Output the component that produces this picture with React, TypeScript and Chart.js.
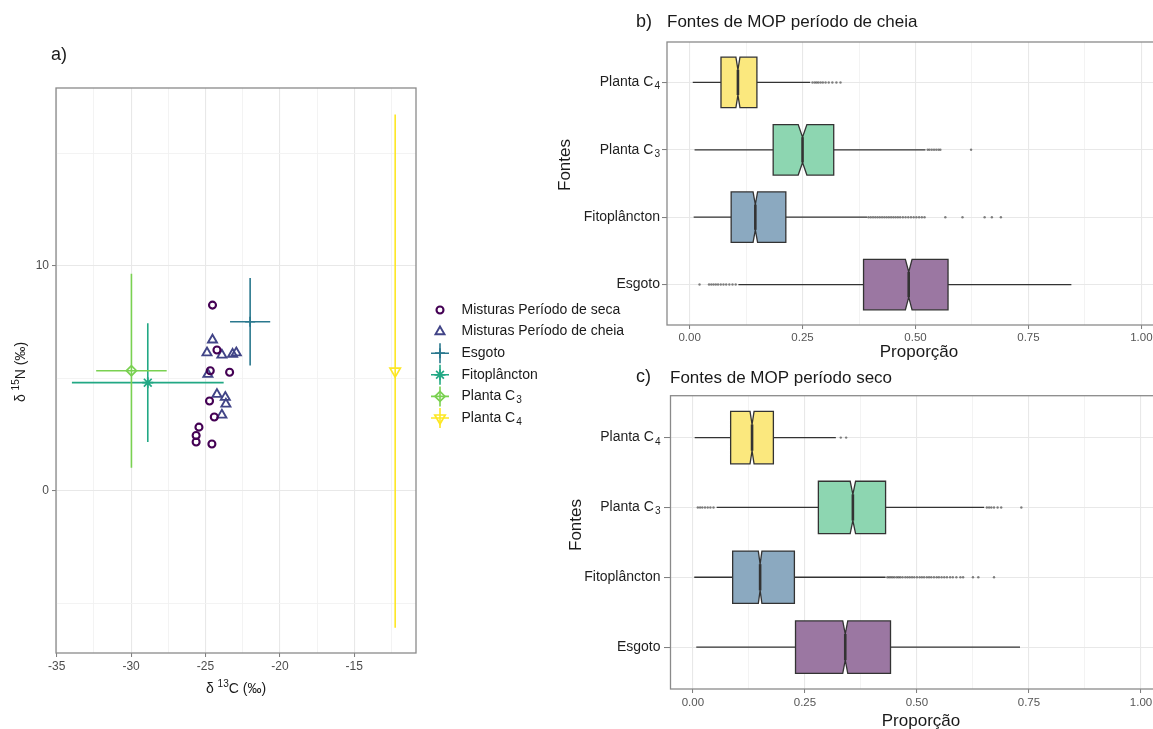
import React, { useEffect, useRef } from 'react';
import Chart from 'chart.js/auto';
import { drawPoint } from 'chart.js/helpers';

const FONT = '"Liberation Sans", Arial, Helvetica, sans-serif';
Chart.defaults.font.family = FONT;

// ---------- Panel a data ----------
const misturaSecaX = [-24.53, -24.23, -24.68, -23.38, -24.73, -24.41, -25.44, -25.63, -25.63, -24.57];
const misturaSecaY = [8.26, 6.26, 5.34, 5.27, 3.99, 3.28, 2.83, 2.46, 2.17, 2.08];
const misturaCheiaX = [-24.53, -24.9, -23.9, -23.18, -22.93, -24.84, -24.23, -23.67, -23.63, -23.9];
const misturaCheiaY = [6.71, 6.14, 6.04, 6.08, 6.14, 5.18, 4.29, 4.16, 3.86, 3.37];
const sourceNames = ['Esgoto', 'Fitoplâncton', 'Planta C3', 'Planta C4'];
const sourceMeanX = [-22.0, -28.88, -29.98, -12.25];
const sourceSdX = [1.35, 5.1, 2.37, 0.05];
const sourceMeanY = [7.52, 4.81, 5.34, 5.32];
const sourceSdY = [1.95, 2.64, 4.32, 11.42];
const aXTicks = [-35, -32.5, -30, -27.5, -25, -22.5, -20, -17.5, -15, -12.5];
const aXLabels = ['-35', '', '-30', '', '-25', '', '-20', '', '-15', ''];
const aYTicks = [-5, 0, 5, 10, 15];
const aYLabels = ['', '0', '', '10', ''];

// ---------- Panels b/c data ----------
const fontes = ['Planta C4', 'Planta C3', 'Fitoplâncton', 'Esgoto'];
const propTicks = [0, 0.125, 0.25, 0.375, 0.5, 0.625, 0.75, 0.875, 1];
const propLabels = ['0.00', '', '0.25', '', '0.50', '', '0.75', '', '1.00'];

const cheiaLow = [0.007, 0.011, 0.009, 0.108];
const cheiaQ1 = [0.0695, 0.185, 0.092, 0.385];
const cheiaMed = [0.107, 0.25, 0.1455, 0.485];
const cheiaQ3 = [0.149, 0.319, 0.213, 0.572];
const cheiaHigh = [0.267, 0.522, 0.393, 0.845];
const cheiaNotch = [0.0045, 0.0096, 0.005, 0.0074];
const cheiaOutC4 = [0.272, 0.277, 0.281, 0.285, 0.29, 0.295, 0.301, 0.308, 0.316, 0.325, 0.334];
const cheiaOutC3 = [0.527, 0.531, 0.536, 0.541, 0.546, 0.551, 0.555, 0.623];
const cheiaOutFito = [0.396, 0.401, 0.406, 0.411, 0.416, 0.421, 0.426, 0.431, 0.436, 0.441, 0.446, 0.451, 0.456, 0.461, 0.466, 0.472, 0.478, 0.484, 0.49, 0.496, 0.502, 0.508, 0.514, 0.52, 0.566, 0.604, 0.653, 0.669, 0.689];
const cheiaOutEsgoto = [0.022, 0.043, 0.048, 0.053, 0.058, 0.063, 0.069, 0.075, 0.081, 0.088, 0.095, 0.102];

const secoLow = [0.004, 0.053, 0.003, 0.0075];
const secoQ1 = [0.0842, 0.28, 0.0887, 0.229];
const secoMed = [0.132, 0.357, 0.15, 0.34];
const secoQ3 = [0.1796, 0.43, 0.2265, 0.441];
const secoHigh = [0.319, 0.65, 0.43, 0.73];
const secoNotch = [0.0045, 0.006, 0.004, 0.0056];
const secoOutC4 = [0.33, 0.342];
const secoOutC3 = [0.011, 0.016, 0.021, 0.027, 0.033, 0.039, 0.046, 0.656, 0.661, 0.666, 0.672, 0.68, 0.688, 0.733];
const secoOutFito = [0.434, 0.438, 0.442, 0.446, 0.45, 0.455, 0.459, 0.463, 0.468, 0.474, 0.479, 0.484, 0.489, 0.494, 0.5, 0.506, 0.511, 0.516, 0.522, 0.527, 0.532, 0.538, 0.544, 0.549, 0.555, 0.561, 0.567, 0.574, 0.58, 0.588, 0.597, 0.603, 0.625, 0.637, 0.672];
const secoOutEsgoto: number[] = [];

const boxFill = ['#FBE87E', '#8DD6B1', '#8BA9C0', '#9B77A2'];
const mixColors = ['#440154', '#414487'];
const sourceColors = ['#2A788E', '#22A884', '#7AD151', '#FDE725'];

const GRID_MAJOR = '#E8E8E8';
const GRID_MINOR = '#F2F2F2';
const BORDER = '#8A8A8A';
const TICK_MARK = '#7A7A7A';

function drawSubText(ctx: CanvasRenderingContext2D, text: string, x: number, y: number, size: number, align: string, color: string) {
  const m = text.match(/^(.*C)(\d)$/);
  const base = m ? m[1] : text;
  const sub = m ? m[2] : '';
  ctx.save();
  ctx.fillStyle = color;
  ctx.textBaseline = 'middle';
  ctx.textAlign = 'left';
  ctx.font = `${size}px ${FONT}`;
  const wb = ctx.measureText(base).width;
  const subSize = size * 0.72;
  ctx.font = `${subSize}px ${FONT}`;
  const ws = sub ? ctx.measureText(sub).width + 1 : 0;
  const total = wb + ws;
  const x0 = align === 'left' ? x : align === 'right' ? x - total : x - total / 2;
  ctx.font = `${size}px ${FONT}`;
  ctx.fillText(base, x0, y);
  if (sub) {
    ctx.font = `${subSize}px ${FONT}`;
    ctx.fillText(sub, x0 + wb + 1, y + size * 0.3);
  }
  ctx.restore();
}

function drawIsoTitle(ctx: CanvasRenderingContext2D, pre: string, sup: string, post: string, cx: number, cy: number, size: number, rotate: boolean) {
  ctx.save();
  ctx.translate(cx, cy);
  if (rotate) ctx.rotate(-Math.PI / 2);
  ctx.fillStyle = '#1a1a1a';
  ctx.textBaseline = 'middle';
  ctx.textAlign = 'left';
  const f = `${size}px ${FONT}`;
  const fs = `${size * 0.72}px ${FONT}`;
  ctx.font = f;
  const w1 = ctx.measureText(pre).width;
  const w3 = ctx.measureText(post).width;
  ctx.font = fs;
  const w2 = ctx.measureText(sup).width;
  let x = -(w1 + w2 + w3) / 2;
  ctx.font = f;
  ctx.fillText(pre, x, 0);
  x += w1;
  ctx.font = fs;
  ctx.fillText(sup, x, -size * 0.35);
  x += w2;
  ctx.font = f;
  ctx.fillText(post, x, 0);
  ctx.restore();
}

function drawText(ctx: CanvasRenderingContext2D, text: string, x: number, y: number, size: number, align: CanvasTextAlign, rotate = false) {
  ctx.save();
  ctx.translate(x, y);
  if (rotate) ctx.rotate(-Math.PI / 2);
  ctx.fillStyle = '#1a1a1a';
  ctx.font = `${size}px ${FONT}`;
  ctx.textAlign = align;
  ctx.textBaseline = 'middle';
  ctx.fillText(text, 0, 0);
  ctx.restore();
}

const sourceStyles = ['cross', 'star', 'rectRot', 'triangle'];
const sourceRotation = [0, 0, 0, 180];
const sourceRadius = [5, 5.5, 5, 6];

function makeScatterConfig(): any {
  const datasets: any[] = [
    {
      label: 'Misturas Período de seca',
      data: misturaSecaX.map((x, i) => ({ x, y: misturaSecaY[i] })),
      pointStyle: 'circle', pointRadius: 3.5, pointBorderWidth: 2.1,
      pointBorderColor: mixColors[0], pointBackgroundColor: 'rgba(0,0,0,0)', pointRotation: 0,
    },
    {
      label: 'Misturas Período de cheia',
      data: misturaCheiaX.map((x, i) => ({ x, y: misturaCheiaY[i] })),
      pointStyle: 'triangle', pointRadius: 5.2, pointBorderWidth: 1.9,
      pointBorderColor: mixColors[1], pointBackgroundColor: 'rgba(0,0,0,0)', pointRotation: 0,
    },
    ...sourceNames.map((name, i) => ({
      label: name,
      data: [{ x: sourceMeanX[i], y: sourceMeanY[i] }],
      pointStyle: sourceStyles[i], pointRadius: sourceRadius[i], pointBorderWidth: 1.7,
      pointRotation: sourceRotation[i],
      pointBorderColor: sourceColors[i], pointBackgroundColor: 'rgba(0,0,0,0)',
    })),
  ];

  const plugin = {
    id: 'panelA',
    beforeDatasetsDraw(chart: any) {
      const { ctx, scales: { x, y } } = chart;
      ctx.save();
      ctx.lineWidth = 1.6;
      sourceNames.forEach((_, i) => {
        ctx.strokeStyle = sourceColors[i];
        ctx.beginPath();
        ctx.moveTo(x.getPixelForValue(sourceMeanX[i] - sourceSdX[i]), y.getPixelForValue(sourceMeanY[i]));
        ctx.lineTo(x.getPixelForValue(sourceMeanX[i] + sourceSdX[i]), y.getPixelForValue(sourceMeanY[i]));
        ctx.moveTo(x.getPixelForValue(sourceMeanX[i]), y.getPixelForValue(sourceMeanY[i] + sourceSdY[i]));
        ctx.lineTo(x.getPixelForValue(sourceMeanX[i]), y.getPixelForValue(sourceMeanY[i] - sourceSdY[i]));
        ctx.stroke();
      });
      ctx.restore();
    },
    afterDraw(chart: any) {
      const { ctx, chartArea: ca } = chart;
      ctx.save();
      ctx.strokeStyle = BORDER;
      ctx.lineWidth = 1.3;
      ctx.strokeRect(ca.left, ca.top, ca.right - ca.left, ca.bottom - ca.top);
      ctx.restore();

      // legend
      chart.data.datasets.forEach((ds: any, i: number) => {
        const ly = 310 + i * 21.6;
        const lx = 440;
        ctx.save();
        ctx.strokeStyle = ds.pointBorderColor;
        ctx.fillStyle = 'rgba(0,0,0,0)';
        ctx.lineWidth = ds.pointBorderWidth;
        if (i >= 2) {
          ctx.lineWidth = 1.6;
          ctx.beginPath();
          ctx.moveTo(lx - 9, ly); ctx.lineTo(lx + 9, ly);
          ctx.moveTo(lx, ly - 10); ctx.lineTo(lx, ly + 10);
          ctx.stroke();
          ctx.lineWidth = ds.pointBorderWidth;
        }
        drawPoint(ctx, { pointStyle: ds.pointStyle, rotation: ds.pointRotation, radius: ds.pointRadius, borderWidth: ds.pointBorderWidth }, lx, ly);
        ctx.restore();
        drawSubText(ctx, ds.label, 461.5, ly, 14, 'left', '#1a1a1a');
      });

      drawText(ctx, 'a)', 51, 55, 18, 'left');
      drawIsoTitle(ctx, 'δ ', '13', 'C (‰)', 236, 689, 14, false);
      drawIsoTitle(ctx, 'δ ', '15', 'N (‰)', 21, 372, 14, true);
    },
  };

  return {
    type: 'scatter',
    data: { datasets },
    options: {
      animation: false,
      responsive: false,
      devicePixelRatio: 1,
      events: [],
      layout: { padding: { left: 16, top: 88, right: 224, bottom: 16 } },
      plugins: { legend: { display: false }, tooltip: { enabled: false } },
      scales: {
        x: {
          type: 'linear', min: -35.05, max: -10.85,
          afterBuildTicks: (s: any) => { s.ticks = aXTicks.map((v) => ({ value: v })); },
          afterFit: (s: any) => { s.height = 60; },
          ticks: {
            autoSkip: false, maxRotation: 0, padding: 2, color: '#4d4d4d',
            font: { size: 12, family: FONT },
            callback: (_v: any, i: number) => aXLabels[i],
          },
          grid: {
            color: (c: any) => (aXLabels[c.index] ? GRID_MAJOR : GRID_MINOR),
            lineWidth: (c: any) => (aXLabels[c.index] ? 1.1 : 0.9),
            tickLength: 4,
            tickColor: (c: any) => (aXLabels[c.index] ? TICK_MARK : 'rgba(0,0,0,0)'),
            tickWidth: 1,
          },
          border: { display: false },
        },
        y: {
          type: 'linear', min: -7.22, max: 17.92,
          afterBuildTicks: (s: any) => { s.ticks = aYTicks.map((v) => ({ value: v })); },
          afterFit: (s: any) => { s.width = 40; },
          ticks: {
            autoSkip: false, padding: 3, color: '#4d4d4d',
            font: { size: 12, family: FONT },
            callback: (_v: any, i: number) => aYLabels[i],
          },
          grid: {
            color: (c: any) => (aYLabels[c.index] ? GRID_MAJOR : GRID_MINOR),
            lineWidth: (c: any) => (aYLabels[c.index] ? 1.1 : 0.9),
            tickLength: 4,
            tickColor: (c: any) => (aYLabels[c.index] ? TICK_MARK : 'rgba(0,0,0,0)'),
            tickWidth: 1,
          },
          border: { display: false },
        },
      },
    },
    plugins: [plugin],
  };
}

interface BoxPanel {
  low: number[]; q1: number[]; med: number[]; q3: number[]; high: number[]; notch: number[];
  outliers: number[][];
  letter: string; title: string;
  letterPos: [number, number]; titlePos: [number, number];
  yTitlePos: [number, number]; xTitlePos: [number, number];
  padding: { left: number; right: number; top: number; bottom: number };
  yTickLength: number; labelOffset: number; xTickPadding: number;
}

const panelB: BoxPanel = {
  low: cheiaLow, q1: cheiaQ1, med: cheiaMed, q3: cheiaQ3, high: cheiaHigh, notch: cheiaNotch,
  outliers: [cheiaOutC4, cheiaOutC3, cheiaOutFito, cheiaOutEsgoto],
  letter: 'b)', title: 'Fontes de MOP período de cheia',
  letterPos: [86, 22], titlePos: [117, 22], yTitlePos: [15, 165], xTitlePos: [369, 352],
  padding: { left: 17, right: 16, top: 42, bottom: 10 },
  yTickLength: 5, labelOffset: 7, xTickPadding: 2,
};

const panelC: BoxPanel = {
  low: secoLow, q1: secoQ1, med: secoMed, q3: secoQ3, high: secoHigh, notch: secoNotch,
  outliers: [secoOutC4, secoOutC3, secoOutFito, secoOutEsgoto],
  letter: 'c)', title: 'Fontes de MOP período seco',
  letterPos: [86, 12], titlePos: [120, 13], yTitlePos: [26, 160], xTitlePos: [371, 356],
  padding: { left: 20.5, right: 16.6, top: 30.7, bottom: 10 },
  yTickLength: 6.5, labelOffset: 10, xTickPadding: 3,
};

function makeBoxConfig(p: BoxPanel): any {
  const outlierData = p.outliers.flatMap((arr, k) => arr.map((v) => ({ x: v, y: k })));
  const plugin = {
    id: 'boxes',
    beforeDatasetsDraw(chart: any) {
      const { ctx, scales: { x, y } } = chart;
      ctx.save();
      for (let k = 0; k < fontes.length; k++) {
        const yc = y.getPixelForValue(k);
        const hh = Math.abs(y.getPixelForValue(k + 0.375) - yc);
        const xl = x.getPixelForValue(p.low[k]);
        const x1 = x.getPixelForValue(p.q1[k]);
        const xm = x.getPixelForValue(p.med[k]);
        const x3 = x.getPixelForValue(p.q3[k]);
        const xh = x.getPixelForValue(p.high[k]);
        const nl = x.getPixelForValue(p.med[k] - p.notch[k]);
        const nr = x.getPixelForValue(p.med[k] + p.notch[k]);
        ctx.strokeStyle = '#333333';
        ctx.lineWidth = 1.3;
        ctx.beginPath();
        ctx.moveTo(xl, yc); ctx.lineTo(x1, yc);
        ctx.moveTo(x3, yc); ctx.lineTo(xh, yc);
        ctx.stroke();
        ctx.beginPath();
        ctx.moveTo(x1, yc - hh);
        ctx.lineTo(nl, yc - hh);
        ctx.lineTo(xm, yc - hh * 0.5);
        ctx.lineTo(nr, yc - hh);
        ctx.lineTo(x3, yc - hh);
        ctx.lineTo(x3, yc + hh);
        ctx.lineTo(nr, yc + hh);
        ctx.lineTo(xm, yc + hh * 0.5);
        ctx.lineTo(nl, yc + hh);
        ctx.lineTo(x1, yc + hh);
        ctx.closePath();
        ctx.fillStyle = boxFill[k];
        ctx.fill();
        ctx.stroke();
        ctx.lineWidth = 2.6;
        ctx.beginPath();
        ctx.moveTo(xm, yc - hh * 0.5);
        ctx.lineTo(xm, yc + hh * 0.5);
        ctx.stroke();
      }
      ctx.restore();
    },
    afterDraw(chart: any) {
      const { ctx, chartArea: ca, scales: { y } } = chart;
      ctx.save();
      ctx.strokeStyle = BORDER;
      ctx.lineWidth = 1.3;
      ctx.strokeRect(ca.left, ca.top, ca.right - ca.left, ca.bottom - ca.top);
      ctx.restore();
      fontes.forEach((name, k) => {
        drawSubText(ctx, name, ca.left - p.labelOffset, y.getPixelForValue(k), 14, 'right', '#1f1f1f');
      });
      drawText(ctx, p.letter, p.letterPos[0], p.letterPos[1], 18, 'left');
      drawText(ctx, p.title, p.titlePos[0], p.titlePos[1], 17, 'left');
      drawText(ctx, 'Fontes', p.yTitlePos[0], p.yTitlePos[1], 17, 'center', true);
      drawText(ctx, 'Proporção', p.xTitlePos[0], p.xTitlePos[1], 17, 'center');
    },
  };
  return {
    type: 'scatter',
    data: {
      datasets: [{
        label: 'outliers',
        data: outlierData,
        pointRadius: 1.2,
        pointBorderWidth: 0,
        pointBackgroundColor: 'rgba(50,50,50,0.6)',
      }],
    },
    options: {
      animation: false,
      responsive: false,
      devicePixelRatio: 1,
      events: [],
      layout: { padding: p.padding },
      plugins: { legend: { display: false }, tooltip: { enabled: false } },
      scales: {
        x: {
          type: 'linear', min: -0.05, max: 1.05,
          afterBuildTicks: (s: any) => { s.ticks = propTicks.map((v) => ({ value: v })); },
          afterFit: (s: any) => { s.height = 30; },
          ticks: {
            autoSkip: false, maxRotation: 0, padding: p.xTickPadding, color: '#555',
            font: { size: 11.5, family: FONT },
            callback: (_v: any, i: number) => propLabels[i],
          },
          grid: {
            color: (c: any) => (propLabels[c.index] ? GRID_MAJOR : GRID_MINOR),
            lineWidth: (c: any) => (propLabels[c.index] ? 1.1 : 0.9),
            tickLength: 4,
            tickColor: (c: any) => (propLabels[c.index] ? TICK_MARK : 'rgba(0,0,0,0)'),
            tickWidth: 1,
          },
          border: { display: false },
        },
        y: {
          type: 'linear', min: -0.6, max: 3.6, reverse: true,
          afterBuildTicks: (s: any) => { s.ticks = fontes.map((_, i) => ({ value: i })); },
          afterFit: (s: any) => { s.width = 100; },
          ticks: { display: false },
          grid: {
            color: GRID_MAJOR, lineWidth: 1.1,
            tickLength: p.yTickLength, tickColor: TICK_MARK, tickWidth: 1,
          },
          border: { display: false },
        },
      },
    },
    plugins: [plugin],
  };
}

export default function App() {
  const aRef = useRef<HTMLCanvasElement>(null);
  const bRef = useRef<HTMLCanvasElement>(null);
  const cRef = useRef<HTMLCanvasElement>(null);
  useEffect(() => {
    const a = new Chart(aRef.current as HTMLCanvasElement, makeScatterConfig());
    const b = new Chart(bRef.current as HTMLCanvasElement, makeBoxConfig(panelB));
    const c = new Chart(cRef.current as HTMLCanvasElement, makeBoxConfig(panelC));
    return () => { a.destroy(); b.destroy(); c.destroy(); };
  }, []);
  return (
    <div style={{ position: 'fixed', left: 0, top: 0, width: 1153, height: 729, overflow: 'hidden', background: '#fff' }}>
      <canvas ref={aRef} width={640} height={729} style={{ position: 'absolute', left: 0, top: 0 }} />
      <canvas ref={bRef} width={630} height={365} style={{ position: 'absolute', left: 550, top: 0 }} />
      <canvas ref={cRef} width={630} height={364} style={{ position: 'absolute', left: 550, top: 365 }} />
    </div>
  );
}
